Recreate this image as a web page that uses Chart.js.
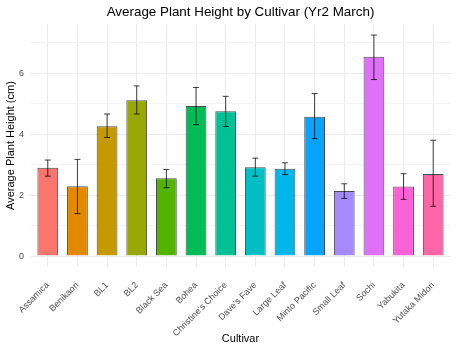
<!DOCTYPE html>
<html>
<head>
<meta charset="utf-8">
<script src="https://cdn.jsdelivr.net/npm/chart.js@4.4.1/dist/chart.umd.min.js"></script>
<style>
  html, body { margin: 0; padding: 0; background: #fff; }
  #wrap { width: 457px; height: 351px; }
</style>
</head>
<body>
<div id="wrap"><canvas id="chart"></canvas></div>
<script>
const cultivars = ["Assamica", "Benikaori", "BL1", "BL2", "Black Sea", "Bohea",
  "Christine's Choice", "Dave's Fave", "Large Leaf", "Minto Pacific",
  "Small Leaf", "Sochi", "Yabukita", "Yutaka Midori"];
const meanHeight = [2.90, 2.29, 4.26, 5.11, 2.55, 4.92, 4.75, 2.91, 2.86, 4.57, 2.13, 6.54, 2.28, 2.69];
const errLow =  [2.62, 1.39, 3.89, 4.66, 2.24, 4.31, 4.25, 2.62, 2.67, 3.85, 1.89, 5.79, 1.86, 1.63];
const errHigh = [3.15, 3.17, 4.66, 5.58, 2.84, 5.53, 5.24, 3.21, 3.06, 5.33, 2.37, 7.25, 2.70, 3.80];
const yTicks = [0, 1, 2, 3, 4, 5, 6, 7];
const barColors = ["#F8766D", "#E38900", "#C49A00", "#99A800", "#53B400", "#00BC56",
  "#00C094", "#00BFC4", "#00B6EB", "#06A4FF", "#A58AFF", "#DF70F8", "#FB61D7", "#FF66A8"];

// draws the error bars on top of the bars
const errorBars = {
  id: "errorBars",
  afterDatasetsDraw(chart) {
    const ctx = chart.ctx;
    const y = chart.scales.y;
    const meta = chart.getDatasetMeta(0);
    const capHalf = (chart.scales.x.getPixelForValue(1) - chart.scales.x.getPixelForValue(0)) * 0.1;
    ctx.save();
    ctx.strokeStyle = "rgba(0,0,0,0.75)";
    ctx.lineWidth = 1;
    meta.data.forEach((bar, i) => {
      const top = y.getPixelForValue(errHigh[i]);
      const bot = y.getPixelForValue(errLow[i]);
      ctx.beginPath();
      ctx.moveTo(bar.x, top);
      ctx.lineTo(bar.x, bot);
      ctx.moveTo(bar.x - capHalf, top);
      ctx.lineTo(bar.x + capHalf, top);
      ctx.moveTo(bar.x - capHalf, bot);
      ctx.lineTo(bar.x + capHalf, bot);
      ctx.stroke();
    });
    ctx.restore();
  },
};

new Chart(document.getElementById("chart"), {
  type: "bar",
  data: {
    datasets: [
      {
        data: meanHeight.map((v, i) => ({ x: i, y: v })),
        backgroundColor: barColors,
        borderColor: "rgba(30,30,30,0.8)",
        borderWidth: 1,
        barPercentage: 0.7,
        categoryPercentage: 1,
      },
    ],
  },
  options: {
    responsive: true,
    maintainAspectRatio: false,
    animation: false,
    layout: { padding: { left: 0, right: 6, top: 0, bottom: 0 } },
    font: { family: "'Liberation Sans', Arial, sans-serif" },
    plugins: {
      legend: { display: false },
      tooltip: { enabled: false },
      title: {
        display: true,
        text: "Average Plant Height by Cultivar (Yr2 March)",
        fullSize: false,
        color: "#000",
        font: { family: "'Liberation Sans', Arial, sans-serif", size: 13.4, weight: "normal" },
        padding: { top: 4, bottom: 4 },
      },
    },
    scales: {
      x: {
        type: "linear",
        offset: false,
        min: -0.6,
        max: 13.6,
        afterBuildTicks: (scale) => {
          scale.ticks = cultivars.map((c, i) => ({ value: i }));
        },
        afterFit: (scale) => {
          scale.height = 84;
          scale.paddingLeft = 0;
          scale.paddingRight = 0;
        },
        grid: { color: "#EBEBEB", lineWidth: 1, drawTicks: false, offset: false },
        border: { display: false },
        ticks: {
          autoSkip: false,
          minRotation: 45,
          maxRotation: 45,
          padding: 13,
          color: "#4D4D4D",
          font: { family: "'Liberation Sans', Arial, sans-serif", size: 9 },
          callback: (v) => cultivars[v],
        },
        title: {
          display: true,
          text: "Cultivar",
          color: "#000",
          font: { family: "'Liberation Sans', Arial, sans-serif", size: 11 },
          padding: { top: 0, bottom: 5 },
        },
      },
      y: {
        min: -0.36,
        max: 7.61,
        afterBuildTicks: (scale) => {
          scale.ticks = yTicks.map((v) => ({ value: v }));
        },
        afterFit: (scale) => {
          scale.width = 30;
        },
        grid: {
          drawTicks: false,
          lineWidth: 1,
          color: (c) => (c.tick && c.tick.value % 2 === 1 ? "#F4F4F4" : "#EBEBEB"),
        },
        border: { display: false },
        ticks: {
          padding: 6,
          color: "#4D4D4D",
          font: { family: "'Liberation Sans', Arial, sans-serif", size: 9 },
          callback: (v) => (v % 2 === 0 ? String(v) : ""),
        },
        title: {
          display: true,
          text: "Average Plant Height (cm)",
          color: "#000",
          font: { family: "'Liberation Sans', Arial, sans-serif", size: 11 },
          padding: 4,
        },
      },
    },
  },
  plugins: [errorBars],
});
</script>
</body>
</html>
